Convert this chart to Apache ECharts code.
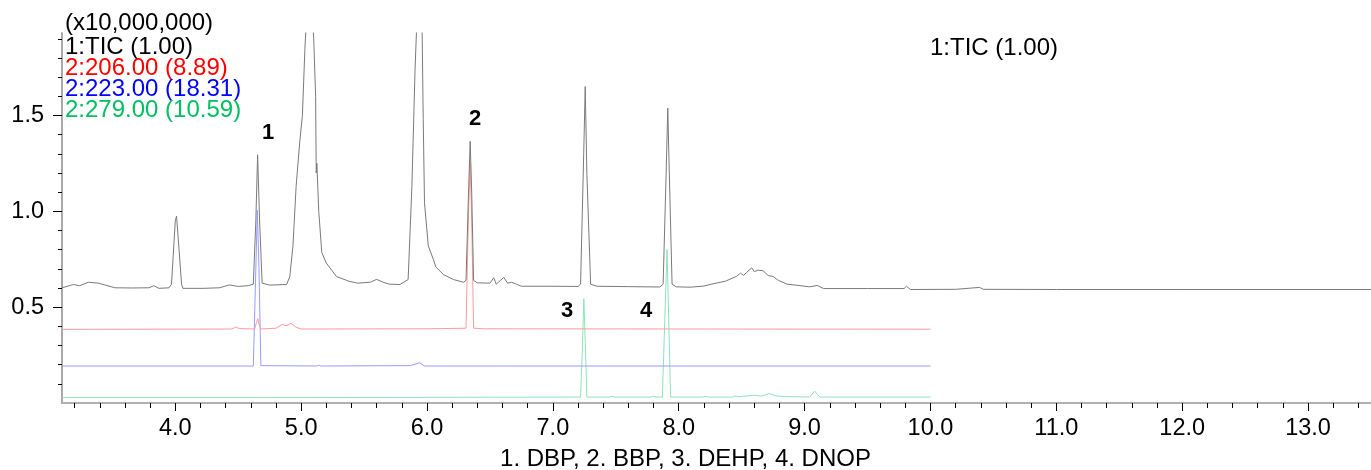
<!DOCTYPE html>
<html>
<head>
<meta charset="utf-8">
<script src="https://cdn.jsdelivr.net/npm/echarts@6/dist/echarts.min.js"></script>
<style>
html,body{margin:0;padding:0;background:#fff;}
#chart{width:1371px;height:470px;}
</style>
</head>
<body>
<div id="chart"></div>
<script>
// ---- data (retention time in min, intensity x10,000,000) ----
var ticTime = [3.10,3.19,3.24,3.31,3.39,3.44,3.52,3.65,3.79,3.83,3.87,3.95,3.97,4.00,4.01,4.03,4.05,4.06,4.22,4.35,4.43,4.50,4.58,4.62,4.64,4.654,4.67,4.69,4.75,4.885,4.91,4.935,4.96,4.99,5.01,5.03,5.05,5.08,5.10,5.115,5.12,5.125,5.14,5.164,5.20,5.28,5.38,5.45,5.55,5.60,5.65,5.70,5.785,5.85,5.88,5.905,5.92,5.96,5.97,5.98,6.01,6.05,6.07,6.13,6.21,6.29,6.31,6.33,6.343,6.355,6.37,6.40,6.50,6.53,6.55,6.61,6.64,6.67,6.71,6.75,7.00,7.20,7.22,7.245,7.257,7.27,7.30,7.35,7.60,7.85,7.876,7.90,7.913,7.925,7.947,7.98,8.09,8.20,8.28,8.37,8.46,8.49,8.515,8.54,8.58,8.60,8.63,8.67,8.71,8.75,8.79,8.86,8.94,9.04,9.10,9.15,9.50,9.79,9.81,9.84,10.20,10.39,10.42,11.00,12.00,13.50];
var ticValue = [0.601,0.618,0.612,0.630,0.625,0.616,0.601,0.600,0.601,0.612,0.598,0.601,0.620,0.950,0.975,0.800,0.620,0.598,0.598,0.601,0.616,0.608,0.612,0.620,0.950,1.295,0.950,0.625,0.615,0.618,0.660,0.820,1.130,1.370,1.500,1.850,2.100,2.100,1.900,1.600,1.200,1.250,1.000,0.785,0.730,0.660,0.635,0.625,0.630,0.645,0.630,0.620,0.618,0.644,1.130,1.740,2.000,2.000,1.480,1.045,0.820,0.750,0.710,0.670,0.644,0.630,0.640,1.100,1.365,1.100,0.640,0.627,0.625,0.653,0.620,0.655,0.625,0.630,0.620,0.609,0.609,0.608,0.620,1.300,1.651,1.200,0.620,0.609,0.607,0.605,0.620,1.200,1.538,1.200,0.620,0.606,0.604,0.610,0.623,0.635,0.661,0.677,0.665,0.682,0.705,0.685,0.693,0.690,0.665,0.660,0.640,0.620,0.614,0.606,0.613,0.597,0.597,0.597,0.609,0.592,0.593,0.603,0.593,0.592,0.592,0.592];

var m206Time = [3.10,4.45,4.48,4.51,4.63,4.645,4.656,4.665,4.68,4.80,4.85,4.88,4.92,4.96,5.00,6.00,6.31,6.33,6.343,6.355,6.37,6.45,10.00];
var m206Value = [0.384,0.386,0.396,0.388,0.386,0.420,0.440,0.410,0.386,0.390,0.410,0.403,0.415,0.395,0.386,0.387,0.390,1.000,1.252,0.950,0.390,0.387,0.385];

var m223Time = [3.10,4.62,4.64,4.652,4.665,4.68,5.12,5.14,5.16,5.87,5.94,5.98,6.60,6.61,6.63,10.00];
var m223Value = [0.193,0.193,0.700,1.005,0.700,0.195,0.193,0.197,0.193,0.195,0.210,0.193,0.193,0.197,0.193,0.193];

var m279Time = [3.10,4.64,4.655,4.67,7.22,7.235,7.246,7.258,7.27,7.45,7.47,7.49,7.78,7.80,7.82,7.87,7.89,7.907,7.92,7.935,8.19,8.21,8.23,8.43,8.45,8.47,8.60,8.66,8.72,8.78,8.85,9.04,9.08,9.12,10.00];
var m279Value = [0.028,0.028,0.036,0.028,0.031,0.300,0.544,0.300,0.031,0.031,0.035,0.031,0.031,0.035,0.031,0.031,0.450,0.800,0.450,0.031,0.031,0.035,0.031,0.031,0.037,0.033,0.040,0.036,0.049,0.036,0.034,0.031,0.062,0.031,0.031];

var xTickLabels = [4,5,6,7,8,9,10,11,12,13];
var yTickLabels = [0.5,1.0,1.5];
var traceNames = ['1:TIC (1.00)','2:206.00 (8.89)','2:223.00 (18.31)','2:279.00 (10.59)'];
var peakLabels = ['1','2','3','4'];
var compoundTitle = '1. DBP, 2. BBP, 3. DEHP, 4. DNOP';
var scaleLabel = '(x10,000,000)';

function pairs(t, v){ var out=[]; for(var i=0;i<t.length;i++){ out.push([t[i], v[i]]); } return out; }

var FONT = '"Liberation Sans", Arial, sans-serif';
var chart = echarts.init(document.getElementById('chart'), null, {renderer:'canvas'});

function lineSeries(name, t, v, color, z){
  return {
    name: name, type: 'line', data: pairs(t, v), showSymbol: false, symbol: 'none',
    lineStyle: {color: color, width: 1}, clip: true, z: z, animation: false, silent: true
  };
}

var option = {
  animation: false,
  backgroundColor: '#ffffff',
  grid: {left: 62, top: 33, right: 0, bottom: 67, containLabel: false},
  xAxis: [{
    type: 'value', min: 3.1, max: 13.5, splitNumber: 10,
    axisLine: {show: true, onZero: false, lineStyle: {color: '#a8a8a8', width: 2}},
    axisTick: {show: true, length: 8, customValues: xTickLabels, lineStyle: {color: '#000', width: 1}},
    minorTick: {show: true, splitNumber: 5, length: 5, lineStyle: {color: '#000', width: 1}},
    axisLabel: {
      show: true, customValues: xTickLabels, margin: 14, color: '#000', fontSize: 23.5, fontFamily: FONT,
      formatter: function(v){ return Math.abs(v - Math.round(v)) < 1e-6 ? v.toFixed(1) : ''; }
    },
    splitLine: {show: false}
  }, {
    type: 'value', position: 'top', min: 3.1, max: 13.5,
    axisLine: {show: true, lineStyle: {color: '#b0b0b0', width: 2}},
    axisTick: {show: false}, axisLabel: {show: false}, splitLine: {show: false}
  }],
  yAxis: {
    type: 'value', min: 0, max: 1.93, interval: 0.5,
    axisLine: {show: true, lineStyle: {color: '#a8a8a8', width: 2}},
    axisTick: {show: true, length: 9, customValues: yTickLabels, lineStyle: {color: '#000', width: 1}},
    minorTick: {show: true, splitNumber: 5, length: 4, lineStyle: {color: '#000', width: 1}},
    axisLabel: {
      show: true, customValues: yTickLabels, margin: 18, color: '#000', fontSize: 23.5, fontFamily: FONT,
      formatter: function(v){ return v > 0.01 && Math.abs(v*2 - Math.round(v*2)) < 1e-6 ? v.toFixed(1) : ''; }
    },
    splitLine: {show: false}
  },
  series: [
    lineSeries(traceNames[3], m279Time, m279Value, '#8fe3bd', 2),
    lineSeries(traceNames[2], m223Time, m223Value, '#9a9aff', 3),
    lineSeries(traceNames[1], m206Time, m206Value, '#ff9a9a', 4),
    lineSeries(traceNames[0], ticTime, ticValue, '#7a7a7a', 5)
  ],
  graphic: [
    {type:'text', left: 65, top: 11, style:{text: scaleLabel, fill:'#000', font: '24px ' + FONT}},
    {type:'text', left: 65, top: 35, style:{text: traceNames[0], fill:'#000', font: '24px ' + FONT}},
    {type:'text', left: 65, top: 56, style:{text: traceNames[1], fill:'#ff0000', font: '24px ' + FONT}},
    {type:'text', left: 65, top: 77, style:{text: traceNames[2], fill:'#0000ff', font: '24px ' + FONT}},
    {type:'text', left: 65, top: 98, style:{text: traceNames[3], fill:'#00c060', font: '24px ' + FONT}},
    {type:'text', left: 930, top: 36, style:{text: traceNames[0], fill:'#000', font: '24px ' + FONT}},
    {type:'text', left: 262, top: 122, style:{text: peakLabels[0], fill:'#000', font: 'bold 22px ' + FONT}},
    {type:'text', left: 469, top: 108, style:{text: peakLabels[1], fill:'#000', font: 'bold 22px ' + FONT}},
    {type:'text', left: 561, top: 300, style:{text: peakLabels[2], fill:'#000', font: 'bold 22px ' + FONT}},
    {type:'text', left: 640, top: 300, style:{text: peakLabels[3], fill:'#000', font: 'bold 22px ' + FONT}},
    {type:'text', left: 'center', top: 447, style:{text: compoundTitle, fill:'#000', font: '24px ' + FONT}}
  ]
};
chart.setOption(option);
</script>
</body>
</html>
